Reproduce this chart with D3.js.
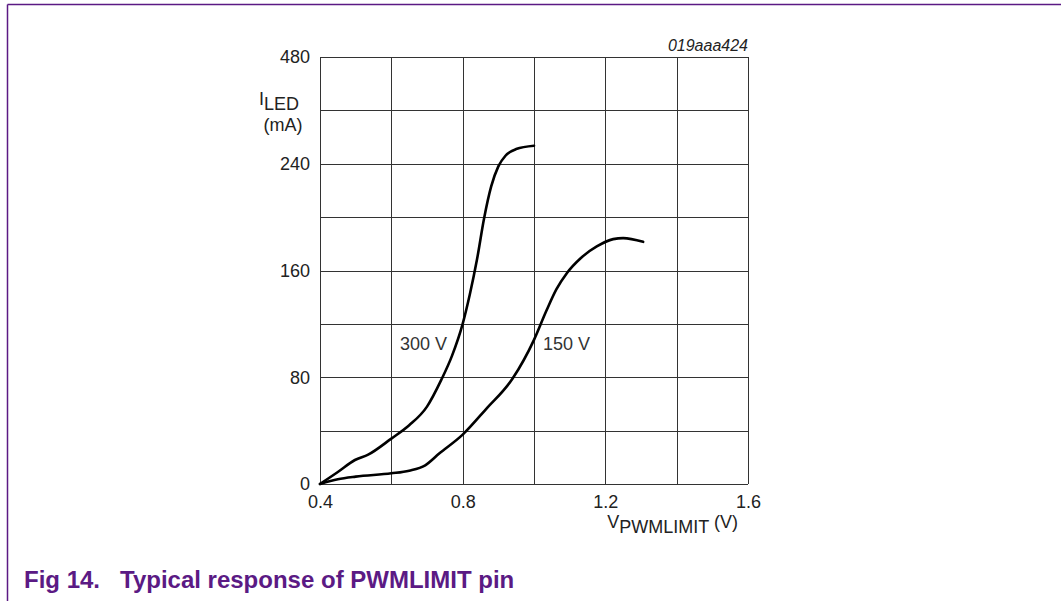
<!DOCTYPE html>
<html>
<head>
<meta charset="utf-8">
<script src="https://cdn.jsdelivr.net/npm/d3@7"></script>
<style>
  body { margin: 0; background: #fff; }
  svg { display: block; font-family: "Liberation Sans", Arial, sans-serif; }
</style>
</head>
<body>
<div id="chart"></div>
<script>
// data (V, mA)
var curve300V = [[0.40, 0], [0.45, 9], [0.498, 18], [0.535, 22], [0.60, 34], [0.65, 44], [0.70, 58],
  [0.74, 78], [0.77, 96], [0.80, 120], [0.82, 142], [0.84, 168], [0.86, 199], [0.88, 223],
  [0.90, 238], [0.92, 246], [0.95, 251], [1.0, 253.5]];
var curve150V = [[0.40, 0], [0.45, 3.5], [0.50, 5.5], [0.60, 8], [0.65, 10], [0.695, 14], [0.735, 23],
  [0.80, 37], [0.865, 56], [0.94, 79], [1.0, 108], [1.035, 130], [1.063, 146], [1.092, 158],
  [1.13, 169], [1.176, 178], [1.222, 183.5], [1.25, 184.3], [1.306, 181.5]];
var xTicks = [0.4, 0.8, 1.2, 1.6];
var xTickLabels = ["0.4", "0.8", "1.2", "1.6"];
var yTicks = [0, 80, 160, 240, 320];
var yTickLabels = ["0", "80", "160", "240", "480"];   // as printed in the original
var xGrid = [0.4, 0.6, 0.8, 1.0, 1.2, 1.4, 1.6];
var yGrid = [0, 40, 80, 120, 160, 200, 240, 280, 320];

var width = 1061, height = 601;
var svg = d3.select("#chart").append("svg").attr("width", width).attr("height", height);

// purple frame (top + left)
var purple = "#5b1a84";
svg.append("line").attr("x1", 7.5).attr("x2", width).attr("y1", 4.5).attr("y2", 4.5)
  .attr("stroke", purple).attr("stroke-width", 1.5);
svg.append("line").attr("x1", 7.5).attr("x2", 7.5).attr("y1", 4.5).attr("y2", height)
  .attr("stroke", purple).attr("stroke-width", 1.5);

// scales
var x = d3.scaleLinear().domain([0.4, 1.6]).range([320, 748]);
var y = d3.scaleLinear().domain([0, 320]).range([484, 57]);

// grid
var grid = svg.append("g").attr("stroke", "#333").attr("stroke-width", 1).attr("shape-rendering", "crispEdges");
grid.selectAll(".vx").data(xGrid).enter().append("line")
  .attr("x1", d => Math.round(x(d)) + 0.5).attr("x2", d => Math.round(x(d)) + 0.5)
  .attr("y1", y(0)).attr("y2", y(320));
grid.selectAll(".hy").data(yGrid).enter().append("line")
  .attr("x1", x(0.4)).attr("x2", x(1.6))
  .attr("y1", d => Math.round(y(d)) + 0.5).attr("y2", d => Math.round(y(d)) + 0.5);

// axes labels
var xAxis = d3.axisBottom(x).tickValues(xTicks).tickSize(0).tickPadding(11)
  .tickFormat((d, i) => xTickLabels[i]);
var gx = svg.append("g").attr("transform", "translate(0," + y(0) + ")").call(xAxis);
gx.select(".domain").remove();
gx.selectAll("text").attr("font-size", 18).attr("fill", "#222").attr("font-family", "Liberation Sans, Arial, sans-serif");

var yAxis = d3.axisLeft(y).tickValues(yTicks).tickSize(0).tickPadding(10)
  .tickFormat((d, i) => yTickLabels[i]);
var gy = svg.append("g").attr("transform", "translate(" + x(0.4) + ",0)").call(yAxis);
gy.select(".domain").remove();
gy.selectAll("text").attr("font-size", 18).attr("fill", "#222").attr("font-family", "Liberation Sans, Arial, sans-serif");

// curves
var line = d3.line().x(d => x(d[0])).y(d => y(d[1])).curve(d3.curveMonotoneX);
[curve300V, curve150V].forEach(function (c) {
  svg.append("path").datum(c).attr("d", line)
    .attr("fill", "none").attr("stroke", "#000").attr("stroke-width", 2.6)
    .attr("stroke-linecap", "round").attr("stroke-linejoin", "round");
});

// curve labels
svg.append("text").attr("x", x(0.69)).attr("y", 350).attr("text-anchor", "middle")
  .attr("font-size", 18).attr("fill", "#333").text("300 V");
svg.append("text").attr("x", x(1.091)).attr("y", 350).attr("text-anchor", "middle")
  .attr("font-size", 18).attr("fill", "#333").text("150 V");

// figure id
svg.append("text").attr("x", 748).attr("y", 51).attr("text-anchor", "end")
  .attr("font-size", 16).attr("font-style", "italic").attr("fill", "#222").text("019aaa424");

// y axis title
var yt = svg.append("text").attr("x", 259).attr("y", 105).attr("font-size", 18).attr("fill", "#222");
yt.append("tspan").text("I");
yt.append("tspan").attr("dy", 5).text("LED");
svg.append("text").attr("x", 283).attr("y", 131).attr("text-anchor", "middle")
  .attr("font-size", 18).attr("fill", "#222").text("(mA)");

// x axis title
var xt = svg.append("text").attr("x", 738).attr("y", 528).attr("text-anchor", "end").attr("font-size", 18).attr("fill", "#222");
xt.append("tspan").text("V");
xt.append("tspan").attr("dy", 5).text("PWMLIMIT");
xt.append("tspan").attr("dy", -5).text(" (V)");

// caption
svg.append("text").attr("x", 24).attr("y", 588).attr("font-size", 24).attr("font-weight", "bold")
  .attr("fill", purple).text("Fig 14.");
svg.append("text").attr("x", 120).attr("y", 588).attr("font-size", 24).attr("font-weight", "bold")
  .attr("fill", purple).text("Typical response of PWMLIMIT pin");
</script>
</body>
</html>
